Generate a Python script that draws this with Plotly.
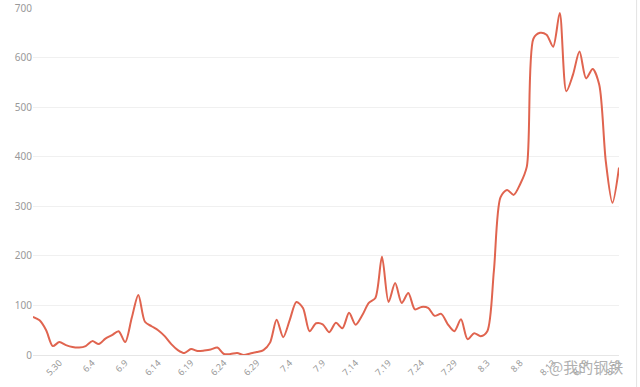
import datetime as dt
import plotly.graph_objects as go

start = dt.date(2023, 5, 26)
dates = [f"{(start + dt.timedelta(days=i)).month}.{(start + dt.timedelta(days=i)).day}" for i in range(90)]

values = [77, 70, 50, 18, 26, 20, 16, 15, 18, 28,
          22, 33, 40, 48, 26, 75, 121, 67, 58, 50,
          38, 22, 10, 4, 12, 8, 9, 11, 15, 2,
          2, 4, 0, 3, 6, 10, 25, 71, 36, 71,
          107, 95, 48, 64, 62, 46, 65, 54, 85, 61,
          80, 105, 115, 198, 107, 145, 105, 125, 92, 97,
          95, 79, 83, 62, 48, 72, 32, 44, 38, 48,
          170, 318, 333, 323, 345, 380, 638, 650, 646, 622,
          690, 532, 565, 612, 558, 577, 545, 390, 307, 378]

tick_labels = ["5.30", "6.4", "6.9", "6.14", "6.19", "6.24", "6.29", "7.4", "7.9",
               "7.14", "7.19", "7.24", "7.29", "8.3", "8.8", "8.13", "8.18", "8.23"]
y_ticks = [0, 100, 200, 300, 400, 500, 600, 700]

fig = go.Figure()
fig.add_trace(go.Scatter(
    x=dates, y=values, mode="lines",
    line=dict(color="#e0644f", width=2, shape="spline", smoothing=0.8),
    hoverinfo="x+y",
))

fig.update_layout(
    width=640, height=387,
    margin=dict(l=33, r=21, t=8, b=32, autoexpand=False),
    paper_bgcolor="white", plot_bgcolor="white",
    showlegend=False,
    font=dict(family="Noto Sans, Open Sans, sans-serif", color="#999999", size=10),
    xaxis=dict(
        type="category", range=[0, 89], automargin=False,
        tickmode="array", tickvals=tick_labels, ticktext=tick_labels,
        tickangle=-45, showgrid=False, zeroline=False,
        showline=False, ticks="", ticklen=0,
        tickfont=dict(size=9, color="#999999"),
    ),
    yaxis=dict(
        range=[0, 700], tickvals=y_ticks, automargin=False,
        showgrid=True, gridcolor="#f0f0f0", gridwidth=1,
        zeroline=True, zerolinecolor="#e6e6e6", zerolinewidth=1,
        showline=False, ticks="", tickfont=dict(size=10, color="#999999"),
    ),
    shapes=[dict(type="line", xref="paper", yref="paper",
                 x0=1.03, x1=1.03, y0=-0.1, y1=1.03,
                 line=dict(color="#e3e3e3", width=1))],
    annotations=[dict(text="@我的钢铁", xref="paper", yref="paper",
                      x=1.01, y=-0.034, xanchor="right", yanchor="middle",
                      showarrow=False,
                      font=dict(family="Noto Sans CJK SC", size=15, color="#b0b0b0"))],
)

fig.write_html("out.html", config={"displayModeBar": False},
               post_script="document.body.style.margin='0';document.body.style.overflow='hidden';")
